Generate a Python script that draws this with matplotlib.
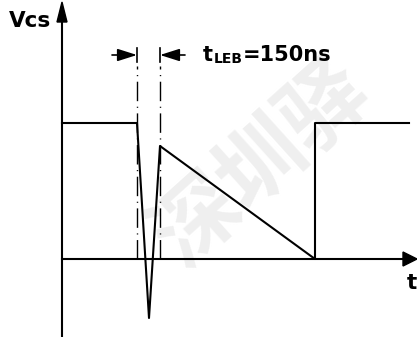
import matplotlib
matplotlib.use("Agg")
import matplotlib.pyplot as plt
from matplotlib.patches import Polygon

# Waveform data (time, Vcs) in arbitrary units, origin at axes crossing
time = [0, 75, 87, 98, 253, 253, 347]
vcs = [136, 136, -59, 113, 0, 136, 136]
# LEB window boundaries
leb_start, leb_end = 75, 98
label_main, label_sub, label_val = 't', 'LEB', '=150ns'

fig = plt.figure(figsize=(4.17, 3.37), dpi=100)
ax = fig.add_axes([0, 0, 1, 1])
ax.set_xlim(-62, 355)
ax.set_ylim(-78, 259)
ax.axis('off')

# faint watermark
ax.text(200, 95, '深圳驿', fontsize=62, color='#efefef', rotation=42,
        family=['Noto Sans CJK SC'], fontweight='bold',
        ha='center', va='center', zorder=0)

k = 'black'
fnt = dict(family='DejaVu Sans', fontweight='bold', color=k)
# axes
ax.plot([0, 0], [-78, 238], color=k, lw=1.5, zorder=2)
ax.add_patch(Polygon([[-5, 237], [5, 237], [0, 257]], closed=True, color=k, zorder=3))
ax.plot([0, 342], [0, 0], color=k, lw=1.5, zorder=2)
ax.add_patch(Polygon([[341, 7], [341, -7], [355, 0]], closed=True, color=k, zorder=3))
ax.text(-53, 238, 'Vcs', fontsize=15.5, ha='left', va='center', **fnt)
ax.text(345, -24, 't', fontsize=15.5, ha='left', va='center', **fnt)

# waveform
ax.plot(time, vcs, color=k, lw=1.5, zorder=2)

# LEB markers
for xv in (leb_start, leb_end):
    ax.plot([xv, xv], [0, 193], color=k, lw=1.0,
            linestyle=(0, (14, 4, 0.8, 4)), zorder=2)
    ax.plot([xv, xv], [197, 211], color=k, lw=1.2, zorder=2)
astyle = '-|>,head_length=0.85,head_width=0.27'
ax.annotate('', xy=(leb_start, 204), xytext=(leb_start - 25, 204),
            arrowprops=dict(arrowstyle=astyle, color=k, lw=1.2, mutation_scale=14,
                            shrinkA=0, shrinkB=0))
ax.annotate('', xy=(leb_end, 204), xytext=(leb_end + 25, 204),
            arrowprops=dict(arrowstyle=astyle, color=k, lw=1.2, mutation_scale=14,
                            shrinkA=0, shrinkB=0))

# label t_LEB=150ns built from three texts
t1 = ax.annotate(label_main, xy=(141, 204), xycoords='data', fontsize=15,
                 ha='left', va='center', **fnt)
fig.canvas.draw()
t2 = ax.annotate(label_sub, xy=(1, 0), xycoords=t1, xytext=(0.5, -1), textcoords='offset points',
                 fontsize=10, ha='left', va='bottom', **fnt)
fig.canvas.draw()
t3 = ax.annotate(label_val, xy=(1, 0), xycoords=t2, xytext=(0, 1), textcoords='offset points',
                 fontsize=15, ha='left', va='bottom', **fnt)

fig.savefig('out.png', dpi=100)
